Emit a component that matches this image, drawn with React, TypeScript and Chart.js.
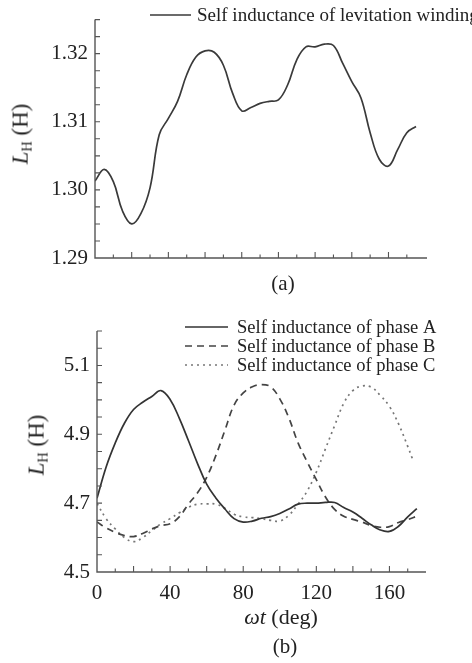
import React, { useEffect, useRef } from "react";
import { Chart, registerables } from "chart.js";

Chart.register(...registerables);

// ---------- DATA ----------
// Angle (deg) for sampled points
const degrees = [0, 5, 10, 15, 20, 25, 30, 35, 40, 45, 50, 55, 60, 65, 70, 75, 80, 85, 90, 95, 100, 105, 110, 115, 120, 125, 130, 135, 140, 145, 150, 155, 160, 165, 170, 175];

// (a) Self inductance of levitation winding (H)
const levitationWinding = [1.3013, 1.303, 1.3012, 1.2969, 1.295, 1.2965, 1.3003, 1.3081, 1.3105, 1.313, 1.3169, 1.3195, 1.3204, 1.3202, 1.3183, 1.3142, 1.3116, 1.3121, 1.3127, 1.313, 1.3132, 1.3154, 1.3191, 1.321, 1.321, 1.3214, 1.3212, 1.3186, 1.3159, 1.3135, 1.3084, 1.3045, 1.3035, 1.3059, 1.3084, 1.3093];

// (b) Self inductance of phases A, B, C (H)
const phaseA = [4.714, 4.805, 4.875, 4.932, 4.972, 4.993, 5.01, 5.027, 5.001, 4.947, 4.882, 4.815, 4.755, 4.715, 4.683, 4.655, 4.645, 4.648, 4.656, 4.661, 4.67, 4.683, 4.697, 4.7, 4.7, 4.702, 4.702, 4.687, 4.674, 4.656, 4.637, 4.622, 4.618, 4.633, 4.66, 4.684];
const phaseB = [4.645, 4.628, 4.615, 4.606, 4.603, 4.612, 4.625, 4.635, 4.64, 4.66, 4.697, 4.73, 4.775, 4.838, 4.912, 4.985, 5.02, 5.038, 5.044, 5.038, 5.003, 4.947, 4.875, 4.82, 4.768, 4.718, 4.682, 4.662, 4.653, 4.645, 4.635, 4.63, 4.632, 4.644, 4.652, 4.662];
const degreesC = [0, 5, 10, 15, 20, 25, 30, 35, 40, 45, 50, 55, 60, 65, 70, 75, 80, 85, 90, 95, 100, 105, 110, 115, 120, 125, 130, 135, 140, 145, 150, 155, 160, 165, 170, 172.5];
const phaseC = [4.699, 4.655, 4.625, 4.6, 4.588, 4.6, 4.62, 4.64, 4.655, 4.672, 4.688, 4.697, 4.698, 4.697, 4.685, 4.668, 4.66, 4.658, 4.655, 4.65, 4.648, 4.665, 4.697, 4.735, 4.79, 4.858, 4.925, 4.99, 5.027, 5.04, 5.037, 5.013, 4.981, 4.93, 4.865, 4.83];

// Axis tick values
const xLabelTicksB = [0, 40, 80, 120, 160];
const yLabelTicksA = [1.29, 1.3, 1.31, 1.32];
const yLabelTicksB = [4.5, 4.7, 4.9, 5.1];

const legendA = ["Self inductance of levitation winding"];
const legendB = ["Self inductance of phase A", "Self inductance of phase B", "Self inductance of phase C"];

// ---------- STYLE ----------
const FONT = "'Liberation Serif', 'Times New Roman', serif";
const AXIS_COLOR = "#555";
const toXY = (xs: number[], ys: number[]) => xs.map((x, i) => ({ x, y: ys[i] }));

function range(a: number, b: number, step: number) {
  const out: number[] = [];
  for (let v = a; v <= b + step * 1e-6; v += step) out.push(Math.round(v * 1e6) / 1e6);
  return out;
}

function axesPlugin(opts: {
  xMinor: number[];
  xMajor: number[];
  yMinor: number[];
  legend: { texts: string[]; x0: number; x1: number; tx: number; y0: number; dy: number; size: number };
}) {
  return {
    id: "customAxes",
    afterDraw(chart: any) {
      const { ctx, chartArea, scales } = chart;
      const xs = scales.x;
      const ys = scales.y;
      ctx.save();
      ctx.strokeStyle = AXIS_COLOR;
      ctx.lineWidth = 1.4;
      ctx.beginPath();
      ctx.moveTo(chartArea.left, chartArea.top);
      ctx.lineTo(chartArea.left, chartArea.bottom);
      ctx.lineTo(chartArea.right, chartArea.bottom);
      ctx.stroke();
      ctx.lineWidth = 1.1;
      ctx.beginPath();
      for (const v of opts.xMinor) {
        const px = xs.getPixelForValue(v);
        const len = opts.xMajor.includes(v) ? 6 : 3.5;
        ctx.moveTo(px, chartArea.bottom);
        ctx.lineTo(px, chartArea.bottom - len);
      }
      for (const v of opts.yMinor) {
        const py = ys.getPixelForValue(v);
        ctx.moveTo(chartArea.left, py);
        ctx.lineTo(chartArea.left + 5, py);
      }
      ctx.stroke();

      // legend
      const lg = opts.legend;
      ctx.font = `${lg.size}px ${FONT}`;
      ctx.textBaseline = "middle";
      ctx.textAlign = "left";
      lg.texts.forEach((t, i) => {
        const ds = chart.data.datasets[i];
        const y = lg.y0 + i * lg.dy;
        ctx.save();
        ctx.strokeStyle = ds.borderColor;
        ctx.lineWidth = ds.borderWidth;
        ctx.setLineDash(ds.borderDash || []);
        ctx.beginPath();
        ctx.moveTo(lg.x0, y);
        ctx.lineTo(lg.x1, y);
        ctx.stroke();
        ctx.restore();
        ctx.fillStyle = "#222";
        ctx.fillText(t, lg.tx, y + 1);
      });
      ctx.restore();
    },
  };
}

function useChart(ref: React.RefObject<HTMLCanvasElement>, make: (c: HTMLCanvasElement) => Chart) {
  useEffect(() => {
    if (!ref.current) return;
    const ch = make(ref.current);
    return () => ch.destroy();
  }, []);
}

export default function App() {
  const refA = useRef<HTMLCanvasElement>(null);
  const refB = useRef<HTMLCanvasElement>(null);

  useChart(refA, (canvas) =>
    new Chart(canvas, {
      type: "line",
      data: {
        datasets: [
          {
            label: legendA[0],
            data: toXY(degrees, levitationWinding),
            borderColor: "#3a3a3a",
            borderWidth: 1.7,
            pointRadius: 0,
            tension: 0.4,
          },
        ],
      },
      options: {
        animation: false,
        responsive: false,
        layout: { padding: { left: 0, right: 45, top: 18, bottom: 0 } },
        plugins: { legend: { display: false }, tooltip: { enabled: false } },
        scales: {
          x: {
            type: "linear",
            min: 0,
            max: 181,
            grid: { display: false, drawTicks: false },
            border: { display: false },
            ticks: { display: false },
            afterFit: (s: any) => { s.height = 42; },
          },
          y: {
            type: "linear",
            min: 1.29,
            max: 1.325,
            grid: { display: false, drawTicks: false },
            border: { display: false },
            afterBuildTicks: (s: any) => { s.ticks = yLabelTicksA.map((v) => ({ value: v })); },
            ticks: {
              padding: 7,
              color: "#222",
              font: { family: FONT, size: 21 },
              callback: (v: any) => Number(v).toFixed(2),
            },
            afterFit: (s: any) => { s.width = 95; },
          },
        },
      },
      plugins: [
        axesPlugin({
          xMinor: range(10, 170, 10),
          xMajor: range(20, 160, 20),
          yMinor: range(1.2925, 1.325, 0.0025),
          legend: { texts: legendA, x0: 150, x1: 191, tx: 197, y0: 15, dy: 19, size: 19 },
        }),
      ],
    } as any)
  );

  useChart(refB, (canvas) =>
    new Chart(canvas, {
      type: "line",
      data: {
        datasets: [
          {
            label: legendB[0],
            data: toXY(degrees, phaseA),
            borderColor: "#333",
            borderWidth: 1.7,
            pointRadius: 0,
            tension: 0.4,
          },
          {
            label: legendB[1],
            data: toXY(degrees, phaseB),
            borderColor: "#444",
            borderWidth: 1.7,
            borderDash: [7, 5],
            pointRadius: 0,
            tension: 0.4,
          },
          {
            label: legendB[2],
            data: toXY(degreesC, phaseC),
            borderColor: "#777",
            borderWidth: 1.7,
            borderDash: [2, 4],
            pointRadius: 0,
            tension: 0.4,
          },
        ],
      },
      options: {
        animation: false,
        responsive: false,
        layout: { padding: { left: 0, right: 46, top: 31, bottom: 0 } },
        plugins: { legend: { display: false }, tooltip: { enabled: false } },
        scales: {
          x: {
            type: "linear",
            min: 0,
            max: 180,
            grid: { display: false, drawTicks: false },
            border: { display: false },
            afterBuildTicks: (s: any) => { s.ticks = xLabelTicksB.map((v) => ({ value: v })); },
            ticks: {
              padding: 9,
              color: "#222",
              maxRotation: 0,
              autoSkip: false,
              font: { family: FONT, size: 21 },
            },
            afterFit: (s: any) => { s.height = 91; },
          },
          y: {
            type: "linear",
            min: 4.5,
            max: 5.2,
            grid: { display: false, drawTicks: false },
            border: { display: false },
            afterBuildTicks: (s: any) => { s.ticks = yLabelTicksB.map((v) => ({ value: v })); },
            ticks: {
              padding: 7,
              color: "#222",
              font: { family: FONT, size: 21 },
              callback: (v: any) => Number(v).toFixed(1),
            },
            afterFit: (s: any) => { s.width = 97; },
          },
        },
      },
      plugins: [
        axesPlugin({
          xMinor: range(10, 170, 10),
          xMajor: range(20, 160, 20),
          yMinor: range(4.55, 5.2, 0.05),
          legend: { texts: legendB, x0: 185, x1: 228, tx: 237, y0: 27, dy: 19, size: 18.5 },
        }),
      ],
    } as any)
  );

  const label = (cx: number, cy: number, rotate: boolean, size: number): React.CSSProperties => ({
    position: "absolute",
    left: cx,
    top: cy,
    transform: `translate(-50%, -50%)${rotate ? " rotate(-90deg)" : ""}`,
    whiteSpace: "nowrap",
    fontFamily: FONT,
    fontSize: size,
    lineHeight: 1,
    color: "#222",
  });
  const sub: React.CSSProperties = { fontSize: "0.62em", verticalAlign: "-0.25em", fontStyle: "normal" };

  return (
    <div style={{ position: "fixed", left: 0, top: 0, width: 472, height: 663, background: "#fff" }}>
      <canvas ref={refA} width={472} height={300} style={{ position: "absolute", left: 0, top: 0, width: 472, height: 300 }} />
      <canvas ref={refB} width={472} height={363} style={{ position: "absolute", left: 0, top: 300, width: 472, height: 363 }} />
      <div style={label(21, 134, true, 23)}>
        <i>L</i><span style={sub}>H</span> (H)
      </div>
      <div style={label(283, 283, false, 21)}>(a)</div>
      <div style={label(37, 445, true, 23)}>
        <i>L</i><span style={sub}>H</span> (H)
      </div>
      <div style={label(281, 617, false, 22)}>
        <i>ωt</i> (deg)
      </div>
      <div style={label(285, 646, false, 21)}>(b)</div>
    </div>
  );
}
